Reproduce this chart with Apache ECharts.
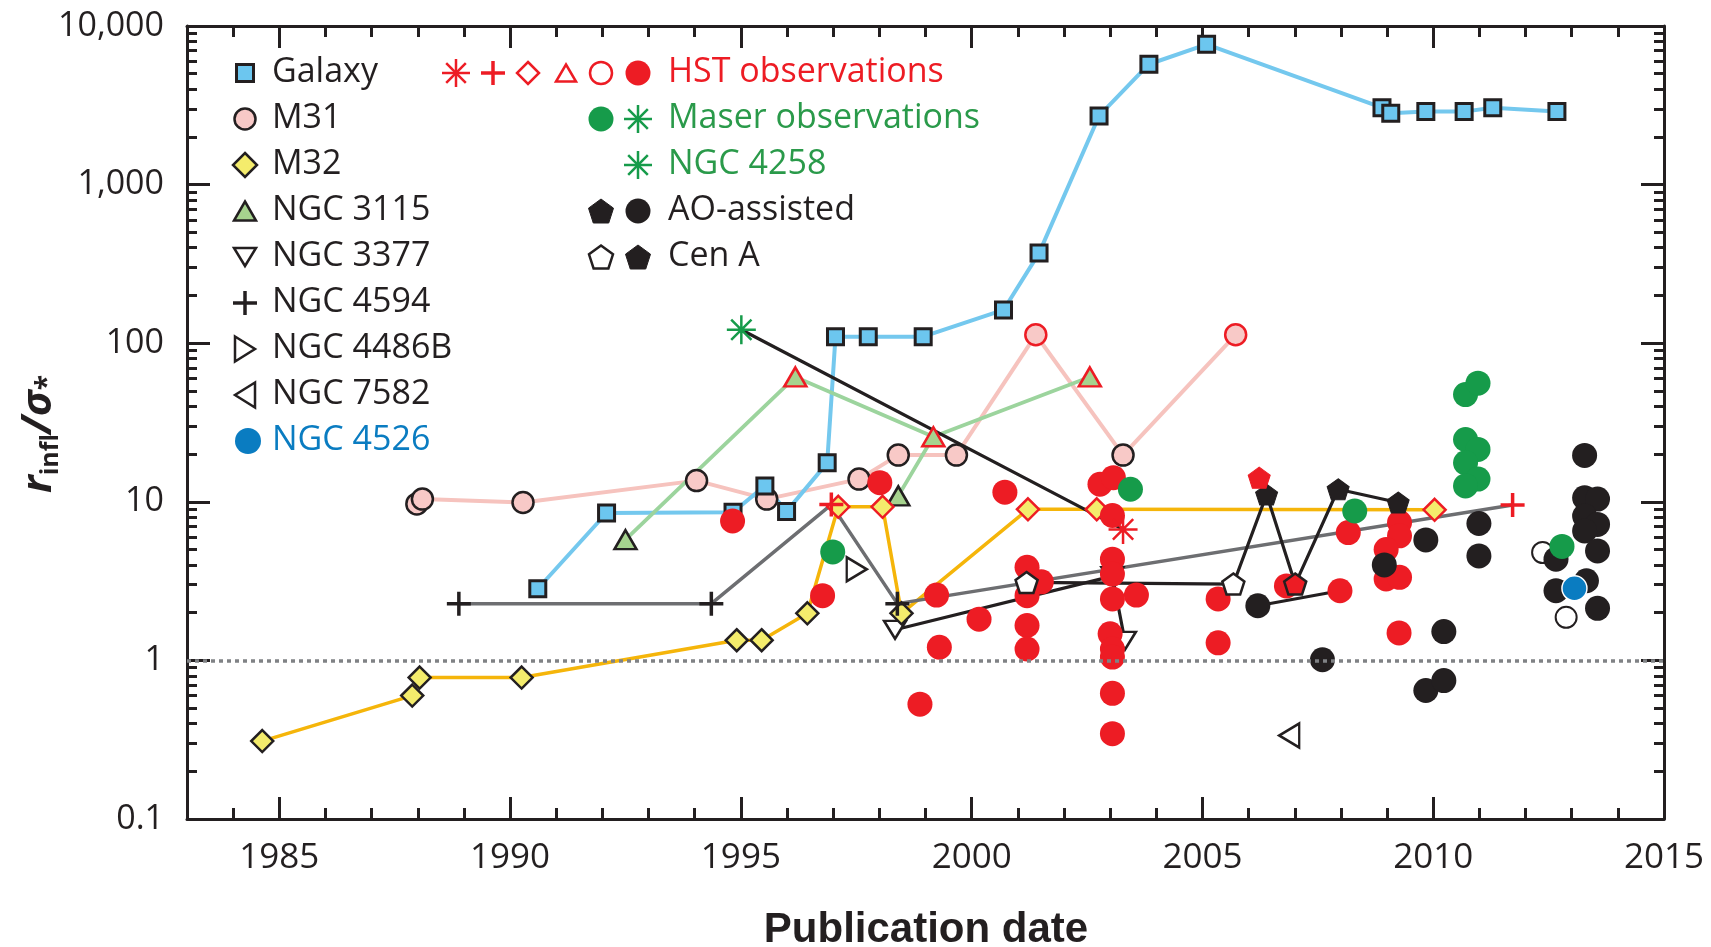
<!DOCTYPE html>
<html>
<head>
<meta charset="utf-8">
<script src="https://cdn.jsdelivr.net/npm/echarts@6/dist/echarts.min.js"></script>
<style>
html,body{margin:0;padding:0;background:#fff;}
#chart{width:1711px;height:947px;}
</style>
</head>
<body>
<div id="chart"></div>
<script>
// ---------------- data ----------------
const xTickLabels = [1985, 1990, 1995, 2000, 2005, 2010, 2015];
const xMinorTicks = [1984, 1986, 1987, 1988, 1989, 1991, 1992, 1993, 1994, 1996, 1997, 1998, 1999,
  2001, 2002, 2003, 2004, 2006, 2007, 2008, 2009, 2011, 2012, 2013, 2014];
const yTickLabels = [0.1, 1, 10, 100, 1000, 10000];
const yMinorTicks = [0.2, 0.3, 0.4, 0.5, 0.6, 0.7, 0.8, 0.9, 2, 3, 4, 5, 6, 7, 8, 9,
  20, 30, 40, 50, 60, 70, 80, 90, 200, 300, 400, 500, 600, 700, 800, 900,
  2000, 3000, 4000, 5000, 6000, 7000, 8000, 9000];

const galaxyYear = [1990.6, 1992.09, 1994.83, 1995.52, 1995.99, 1996.87, 1997.05, 1997.76, 1998.95, 2000.69,
  2001.46, 2002.76, 2003.84, 2005.09, 2008.89, 2009.08, 2009.84, 2010.67, 2011.29, 2012.68];
const galaxyVal = [2.83, 8.5, 8.6, 12.6, 8.7, 17.6, 110, 110, 110, 162,
  370, 2710, 5740, 7670, 3055, 2820, 2885, 2885, 3055, 2885];

const m31Year = [1987.98, 1988.1, 1990.28, 1994.04, 1995.56, 1997.56, 1998.41, 1999.67, 2001.39, 2003.28, 2005.72];
const m31Val = [9.7, 10.4, 9.9, 13.6, 10.4, 13.9, 19.7, 19.7, 113, 19.7, 113];
const m31Hst = [0, 0, 0, 0, 0, 0, 0, 0, 1, 0, 1];

const m32Year = [1984.63, 1987.88, 1988.04, 1990.25, 1994.91, 1995.45, 1996.44, 1997.11, 1998.07, 1998.48, 2001.22, 2002.71, 2010.03];
const m32Val = [0.31, 0.60, 0.78, 0.78, 1.34, 1.34, 1.98, 9.3, 9.3, 1.98, 8.97, 8.97, 8.9];
const m32Hst = [0, 0, 0, 0, 0, 0, 0, 1, 1, 0, 1, 1, 1];

const n3115Year = [1992.5, 1996.18, 1999.17, 2002.56, 1998.41];
const n3115Val = [5.77, 61.3, 25.7, 61.3, 10.9];
const n3115Hst = [0, 1, 1, 1, 0];

const n3377Year = [1998.34, 2003.05, 2003.32];
const n3377Val = [1.56, 3.4, 1.33];

const n4594Year = [1988.89, 1994.36, 1996.96, 1998.39, 2011.72];
const n4594Val = [2.28, 2.28, 9.6, 2.28, 9.55];
const n4594Hst = [0, 0, 1, 0, 1];

const n4486bYear = [1997.51];
const n4486bVal = [3.76];
const n7582Year = [2006.88];
const n7582Val = [0.336];
const n4526Year = [2013.06];
const n4526Val = [2.85];

const n4258Year = [1995.01, 2003.28];   // maser, then HST
const n4258Val = [121.6, 6.7];

const cenAYear = [2001.19, 2005.67, 2006.39, 2007.01, 2007.94, 2009.24, 2006.23];
const cenAVal = [3.1, 3.03, 11.1, 3.03, 12.0, 9.9, 14.2];
const cenAKind = ['open', 'open', 'ao', 'hstb', 'ao', 'ao', 'hst'];

const aoPairYear = [2006.2, 2007.98];
const aoPairVal = [2.21, 2.75];

const hstYear = [1994.82, 1996.77, 1998.01, 1998.88, 1999.24, 1999.3, 2000.16, 2000.72, 2001.2, 2001.51,
  2001.2, 2001.2, 2001.2, 2002.78, 2003.07, 2003.05, 2003.05, 2003.05, 2003.05, 2003.57,
  2003.0, 2003.05, 2003.05, 2003.05, 2003.05, 2005.34, 2005.34, 2006.82, 2007.98, 2008.16,
  2009.27, 2009.27, 2008.98, 2008.98, 2009.27, 2009.26];
const hstVal = [7.57, 2.56, 13.2, 0.53, 2.58, 1.21, 1.82, 11.5, 3.86, 3.13,
  2.56, 1.66, 1.18, 12.9, 14.2, 8.2, 4.35, 3.5, 2.44, 2.58,
  1.47, 1.18, 1.05, 0.62, 0.345, 2.44, 1.29, 2.95, 2.75, 6.4,
  7.4, 6.1, 5.0, 3.26, 3.34, 1.49];

const maserYear = [1996.99, 2003.44, 2008.3, 2010.7, 2010.97, 2010.7, 2010.97, 2010.7, 2010.97, 2010.7, 2012.79];
const maserVal = [4.83, 12.0, 8.75, 47.4, 56, 24.7, 21.4, 17.6, 13.9, 12.6, 5.23];

const aoYear = [2006.2, 2007.6, 2008.94, 2009.84, 2010.23, 2009.84, 2010.23, 2010.99, 2010.99, 2013.28,
  2013.28, 2013.56, 2013.28, 2013.56, 2013.28, 2013.56, 2012.66, 2013.32, 2012.66, 2013.56];
const aoVal = [2.21, 1.01, 4.0, 5.75, 1.52, 0.646, 0.746, 7.3, 4.56, 19.6,
  10.6, 10.4, 8.14, 7.2, 6.55, 4.9, 4.35, 3.18, 2.75, 2.13];

const groundYear = [2012.37, 2012.88];
const groundVal = [4.79, 1.87];

// ---------------- styles ----------------
const BLACK = '#231F20', RED = '#ED1C24', GREEN = '#169B4A', GREENTXT = '#2A9A4A';
const BLUEFILL = '#6CC6EF', BLUELINE = '#74C8EE', PINKLINE = '#F6C3BE', PINKFILL = '#F8C9C7';
const ORANGE = '#F5B50A', YELLOW = '#F4EC6C', TRIFILL = '#A6D38E', GREENLINE = '#9CD49D';
const GRAY = '#6D6E71', DOTGRAY = '#808285', N4526 = '#0A7CC1';
const FONT = 'Open Sans';

const PENT = [[50, 0], [100, 38.2], [80.9, 100], [19.1, 100], [0, 38.2]];
const TRI_UP = [[50, 0], [100, 100], [0, 100]];
const TRI_DOWN = [[0, 0], [100, 0], [50, 100]];
const TRI_RIGHT = [[0, 0], [100, 50], [0, 100]];
const TRI_LEFT = [[100, 0], [0, 50], [100, 100]];
const DIAM = [[50, 0], [100, 50], [50, 100], [0, 50]];
const toPath = pts => 'path://M' + pts.map(p => p.join(',')).join(' L') + ' Z';
const PLUS_PATH = 'path://M50,0 L50,100 M0,50 L100,50';
const ASTER_PATH = 'path://M50,0 L50,100 M0,50 L100,50 M15,15 L85,85 M85,15 L15,85';

const P = (xs, ys) => xs.map((x, i) => [x, ys[i]]);

function lineS(data, color, width) {
  return { type: 'line', data, symbol: 'none', showSymbol: false, silent: true, z: 2,
    lineStyle: { color, width, cap: 'round', join: 'round', opacity: 1 } };
}
function scat(data, symbol, size, itemStyle) {
  return { type: 'scatter', data, symbol, symbolSize: size, itemStyle: Object.assign({ opacity: 1 }, itemStyle), silent: true, z: 3 };
}
const borderPts = (xs, ys, flags, normal, hot) =>
  xs.map((x, i) => ({ value: [x, ys[i]], itemStyle: { borderColor: flags[i] ? hot : normal } }));

// ---------------- axes ----------------
function xAx(pos, vals, len, showLine, showLabel) {
  return {
    type: 'value', position: pos, min: 1983, max: 2015,
    splitLine: { show: false },
    axisLine: { show: showLine, onZero: false, lineStyle: { color: BLACK, width: 3 } },
    axisTick: { show: true, inside: true, length: len, customValues: vals, lineStyle: { color: BLACK, width: 3 } },
    axisLabel: { show: showLabel, customValues: vals, margin: 22, fontFamily: FONT, fontSize: 35, color: BLACK,
      formatter: v => String(Math.round(v)) }
  };
}
function yAx(pos, vals, len, showLine, showLabel) {
  return {
    type: 'log', logBase: 10, position: pos, min: 0.1, max: 10000,
    splitLine: { show: false },
    axisLine: { show: showLine, onZero: false, lineStyle: { color: BLACK, width: 3 } },
    axisTick: { show: true, inside: true, length: len, customValues: vals, lineStyle: { color: BLACK, width: 3 } },
    axisLabel: {
      show: showLabel, customValues: vals, margin: 23, fontFamily: FONT, fontSize: 34, color: BLACK,
      formatter: v => { const n = Number(Number(v).toPrecision(6)); return n >= 1000 ? n.toLocaleString('en-US') : String(n); }
    }
  };
}

// ---------------- legend / titles (graphic) ----------------
const G = [];
function gPoly(cx, cy, w, h, pts, fill, stroke, lw) {
  G.push({ type: 'polygon', silent: true, shape: { points: pts.map(p => [cx - w / 2 + p[0] * w / 100, cy - h / 2 + p[1] * h / 100]) },
    style: { fill, stroke, lineWidth: lw, lineJoin: 'miter' } });
}
function gCircle(cx, cy, r, fill, stroke, lw) {
  G.push({ type: 'circle', silent: true, shape: { cx, cy, r }, style: { fill, stroke: stroke || null, lineWidth: lw || 0 } });
}
function gRect(cx, cy, s, fill, stroke, lw) {
  G.push({ type: 'rect', silent: true, shape: { x: cx - s / 2, y: cy - s / 2, width: s, height: s }, style: { fill, stroke, lineWidth: lw } });
}
function gLine(x1, y1, x2, y2, stroke, lw) {
  G.push({ type: 'line', silent: true, shape: { x1, y1, x2, y2 }, style: { stroke, lineWidth: lw } });
}
function gPlus(cx, cy, s, stroke, lw) {
  gLine(cx - s / 2, cy, cx + s / 2, cy, stroke, lw); gLine(cx, cy - s / 2, cx, cy + s / 2, stroke, lw);
}
function gAster(cx, cy, s, stroke, lw) {
  const h = s / 2, d = s * 0.35;
  gLine(cx - h, cy, cx + h, cy, stroke, lw); gLine(cx, cy - h, cx, cy + h, stroke, lw);
  gLine(cx - d, cy - d, cx + d, cy + d, stroke, lw); gLine(cx - d, cy + d, cx + d, cy - d, stroke, lw);
}
function gText(x, y, text, color) {
  G.push({ type: 'text', silent: true, x, y, style: { text, fill: color, fontFamily: FONT, fontSize: 34, align: 'left', verticalAlign: 'middle' } });
}

const ROW0 = 73, STEP = 46, C1M = 245, C1T = 272, C2T = 668;
const row = i => ROW0 + STEP * i;
// column 1
gRect(C1M, row(0), 17, BLUEFILL, BLACK, 3); gText(C1T, row(0) - 1, 'Galaxy', BLACK);
gCircle(C1M, row(1), 10.5, PINKFILL, BLACK, 2.5); gText(C1T, row(1) - 1, 'M31', BLACK);
gPoly(C1M, row(2), 24, 24, DIAM, YELLOW, BLACK, 2.5); gText(C1T, row(2) - 1, 'M32', BLACK);
gPoly(C1M, row(3), 22, 19, TRI_UP, TRIFILL, BLACK, 2.5); gText(C1T, row(3) - 1, 'NGC 3115', BLACK);
gPoly(C1M, row(4), 22, 18, TRI_DOWN, '#fff', BLACK, 2.5); gText(C1T, row(4) - 1, 'NGC 3377', BLACK);
gPlus(C1M, row(5), 24, BLACK, 3.5); gText(C1T, row(5) - 1, 'NGC 4594', BLACK);
gPoly(C1M, row(6), 20, 25, TRI_RIGHT, '#fff', BLACK, 2.5); gText(C1T, row(6) - 1, 'NGC 4486B', BLACK);
gPoly(C1M, row(7), 20, 25, TRI_LEFT, '#fff', BLACK, 2.5); gText(C1T, row(7) - 1, 'NGC 7582', BLACK);
gCircle(248, row(8), 13, N4526); gText(C1T, row(8) - 1, 'NGC 4526', N4526);
// column 2
gAster(456, row(0), 28, RED, 2.5);
gPlus(493, row(0), 24, RED, 3.5);
gPoly(528, row(0), 22, 22, DIAM, '#fff', RED, 2.5);
gPoly(566, row(0), 20, 17, TRI_UP, '#fff', RED, 2.5);
gCircle(601, row(0), 11, '#fff', RED, 2.5);
gCircle(638, row(0), 12.5, RED);
gText(C2T, row(0) - 1, 'HST observations', RED);
gCircle(601, row(1), 12.5, GREEN);
gAster(638, row(1), 28, GREEN, 2.5);
gText(C2T, row(1) - 1, 'Maser observations', GREENTXT);
gAster(638, row(2), 28, GREEN, 2.5);
gText(C2T, row(2) - 1, 'NGC 4258', GREENTXT);
gPoly(601, row(3), 25, 24, PENT, BLACK, BLACK, 1);
gCircle(638, row(3), 12.5, BLACK);
gText(C2T, row(3) - 1, 'AO-assisted', BLACK);
gPoly(601, row(4), 24, 23, PENT, '#fff', BLACK, 2.5);
gPoly(638, row(4), 25, 24, PENT, BLACK, BLACK, 1);
gText(C2T, row(4) - 1, 'Cen A', BLACK);

// axis titles
G.push({ type: 'text', silent: true, x: 926, y: 930,
  style: { text: 'Publication date', fill: BLACK, fontFamily: 'Liberation Sans', fontWeight: 'bold', fontSize: 42, align: 'center', verticalAlign: 'middle' } });
G.push({ type: 'text', silent: true, x: 39, y: 434, rotation: Math.PI / 2,
  style: {
    text: '{r|r}{s|infl}{r|/σ}{t|*}', align: 'center', verticalAlign: 'middle',
    rich: {
      r: { fontFamily: FONT, fontSize: 42, fontWeight: 'bold', fontStyle: 'italic', fill: BLACK, lineHeight: 46 },
      s: { fontFamily: FONT, fontSize: 25, fontWeight: 'bold', fill: BLACK, lineHeight: 25, padding: [24, 0, 0, 0] },
      t: { fontFamily: FONT, fontSize: 28, fontWeight: 'bold', fill: BLACK, lineHeight: 28, padding: [18, 0, 0, 0] }
    }
  } });

// ---------------- series ----------------
const n3115Main = [0, 1, 2, 3].map(i => [n3115Year[i], n3115Val[i]]);
const n3115Branch = [4, 2].map(i => [n3115Year[i], n3115Val[i]]);
const cenALine = P(cenAYear, cenAVal).slice(0, 6);

const galaxyLine = lineS(P(galaxyYear, galaxyVal), BLUELINE, 4);
galaxyLine.markLine = { silent: true, symbol: 'none', label: { show: false }, animation: false,
  lineStyle: { type: [4, 4], color: DOTGRAY, width: 3.5, opacity: 1 }, data: [{ yAxis: 1 }] };

const cenAStyle = {
  open: { color: '#fff', borderColor: BLACK, borderWidth: 2.5 },
  ao: { color: BLACK, borderColor: BLACK, borderWidth: 1 },
  hst: { color: RED, borderColor: RED, borderWidth: 1 },
  hstb: { color: RED, borderColor: BLACK, borderWidth: 2.5 }
};

const series = [
  lineS(P(m31Year, m31Val), PINKLINE, 4),
  galaxyLine,
  lineS(n3115Main, GREENLINE, 3.8),
  lineS(n3115Branch, GREENLINE, 3.8),
  lineS(P(m32Year, m32Val), ORANGE, 3.5),
  lineS(P(n4594Year, n4594Val), GRAY, 3.5),
  lineS(P(n3377Year, n3377Val), BLACK, 3.2),
  lineS(cenALine, BLACK, 3.2),
  lineS(P(aoPairYear, aoPairVal), BLACK, 3.2),
  lineS(P(n4258Year, n4258Val), BLACK, 3.2),

  scat(borderPts(m31Year, m31Val, m31Hst, BLACK, RED), 'circle', 21, { color: PINKFILL, borderWidth: 2.5 }),
  scat(P(galaxyYear, galaxyVal), 'rect', 16, { color: BLUEFILL, borderColor: BLACK, borderWidth: 3 }),
  scat(borderPts(n3115Year, n3115Val, n3115Hst, BLACK, RED), toPath(TRI_UP), [22, 19], { color: TRIFILL, borderWidth: 2.5 }),
  scat(P(n3377Year, n3377Val), toPath(TRI_DOWN), [22, 18], { color: '#fff', borderColor: BLACK, borderWidth: 2.5 }),
  scat(borderPts(m32Year, m32Val, m32Hst, BLACK, RED), 'diamond', 22, { color: YELLOW, borderWidth: 2.5 }),
  scat(P(n4486bYear, n4486bVal), toPath(TRI_RIGHT), [20, 24], { color: '#fff', borderColor: BLACK, borderWidth: 2.5 }),
  scat(P(n7582Year, n7582Val), toPath(TRI_LEFT), [20, 24], { color: '#fff', borderColor: BLACK, borderWidth: 2.5 }),
  scat(P(hstYear, hstVal), 'circle', 25, { color: RED }),
  scat(cenAYear.map((x, i) => ({ value: [x, cenAVal[i]], itemStyle: cenAStyle[cenAKind[i]] })), toPath(PENT), [22, 21], {}),
  scat(borderPts(n4594Year, n4594Val, n4594Hst, BLACK, RED), PLUS_PATH, 24, { color: 'none', borderWidth: 3.5 }),
  scat(P(groundYear, groundVal), 'circle', 21, { color: '#fff', borderColor: BLACK, borderWidth: 2 }),
  scat(P(aoYear, aoVal), 'circle', 25, { color: BLACK }),
  scat(P(maserYear, maserVal), 'circle', 25, { color: GREEN }),
  scat(P(n4526Year, n4526Val), 'circle', 25, { color: N4526, borderColor: '#fff', borderWidth: 1.5 }),
  scat([{ value: [n4258Year[0], n4258Val[0]], itemStyle: { borderColor: GREEN } },
        { value: [n4258Year[1], n4258Val[1]], itemStyle: { borderColor: RED } }],
       ASTER_PATH, 29, { color: 'none', borderWidth: 2.5 })
];

const chart = echarts.init(document.getElementById('chart'));
chart.setOption({
  animation: false,
  backgroundColor: '#fff',
  grid: { left: 187, right: 47, top: 26, bottom: 128 },
  xAxis: [
    xAx('bottom', xTickLabels, 22, true, true),
    xAx('bottom', xMinorTicks, 11, false, false),
    xAx('top', xTickLabels, 22, true, false),
    xAx('top', xMinorTicks, 11, false, false)
  ],
  yAxis: [
    yAx('left', yTickLabels, 23, true, true),
    yAx('left', yMinorTicks, 10, false, false),
    yAx('right', yTickLabels, 23, true, false),
    yAx('right', yMinorTicks, 10, false, false)
  ],
  series,
  graphic: G
});
</script>
</body>
</html>
